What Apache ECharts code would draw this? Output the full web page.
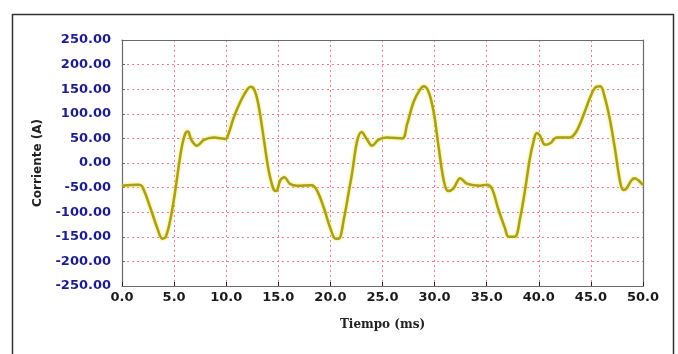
<!DOCTYPE html>
<html><head><meta charset="utf-8">
<script src="https://cdn.jsdelivr.net/npm/echarts@6/dist/echarts.min.js"></script>
<style>html,body{margin:0;padding:0;background:#fff}#c{width:678px;height:354px}</style>
</head><body><div id="c"></div>
<script>
var timeMs = [0, 1.6, 1.95, 2.75, 3.4, 3.87, 4.2, 4.66, 5.14, 5.46, 5.78, 6.1, 6.33, 6.65, 7.2, 7.86, 8.8, 9.94, 10.25, 10.7, 11.37, 12.0, 12.33, 12.7, 13.1, 13.6, 14.1, 14.57, 14.8, 15.2, 15.6, 16.1, 16.8, 18.2, 18.7, 19.4, 20.0, 20.5, 20.8, 21.3, 21.76, 22.1, 22.56, 23.0, 23.45, 24.0, 24.6, 25.4, 26.9, 27.35, 28.0, 28.6, 28.95, 29.4, 29.9, 30.4, 30.9, 31.3, 31.8, 32.46, 33.1, 34.4, 35.0, 35.5, 36.1, 36.76, 37.1, 37.7, 38.2, 38.7, 39.15, 39.5, 39.8, 40.1, 40.6, 41.1, 41.7, 43.0, 43.6, 44.3, 44.9, 45.4, 45.9, 46.3, 46.8, 47.3, 47.8, 48.1, 48.4, 48.9, 49.2, 49.7, 50.0];
var corriente = [-46, -44, -48, -93, -133, -154, -150, -113, -52, -4, 37, 61, 64, 47, 35, 47, 52, 49, 61, 91, 125, 149, 155, 149, 118, 50, -18, -55, -57, -35, -29, -42, -46, -45, -55, -93, -133, -154, -154, -113, -59, -18, 44, 63, 50, 35, 47, 52, 50, 78, 125, 149, 156, 146, 105, 30, -38, -57, -52, -31, -42, -46, -44, -52, -93, -133, -150, -150, -113, -52, 10, 44, 61, 56, 37, 40, 52, 52, 64, 98, 132, 153, 156, 136, 91, 30, -38, -55, -52, -35, -31, -38, -45];
var xMin = 0, xMax = 50, xStep = 5;
var yMin = -250, yMax = 250, yStep = 50;
var xTitle = 'Tiempo (ms)';
var yTitle = 'Corriente (A)';

var pts = timeMs.map(function(t, i){ return [t, corriente[i]]; });
var sans = '"DejaVu Sans", sans-serif';
var serif = '"DejaVu Serif", "Liberation Serif", serif';
var frameLine = {show: true, onZero: false, lineStyle: {color: '#6a6a6a', width: 1.2}};
var chart = echarts.init(document.getElementById('c'), null, {renderer: 'canvas'});
chart.setOption({
  animation: false,
  backgroundColor: '#fff',
  graphic: [{
    type: 'rect', left: 10, top: 12, silent: true,
    shape: {width: 661, height: 400},
    style: {fill: 'none', stroke: '#333', lineWidth: 1.5}
  }],
  grid: {left: 122, right: 35, top: 40, bottom: 68, show: false},
  xAxis: [{
    type: 'value', min: xMin, max: xMax, interval: xStep,
    name: xTitle, nameLocation: 'middle', nameGap: 33,
    nameTextStyle: {fontFamily: serif, fontWeight: 'bold', fontSize: 12, color: '#222'},
    axisLine: frameLine,
    axisTick: {show: true, inside: true, length: 4, lineStyle: {color: '#222'}},
    axisLabel: {fontFamily: sans, fontWeight: 'bold', fontSize: 13, color: '#1a1a1a', margin: 5,
      formatter: function(v){ return v.toFixed(1); }},
    splitLine: {show: true, lineStyle: {color: '#ee7f86', type: [2, 3], width: 1}}
  }, {
    type: 'value', position: 'top', min: xMin, max: xMax, interval: xStep,
    axisLine: frameLine, axisTick: {show: false}, axisLabel: {show: false}, splitLine: {show: false}
  }],
  yAxis: [{
    type: 'value', min: yMin, max: yMax, interval: yStep,
    name: yTitle, nameLocation: 'middle', nameGap: 78, nameRotate: 90,
    nameTextStyle: {fontFamily: sans, fontWeight: 'bold', fontSize: 12, color: '#222'},
    axisLine: frameLine,
    axisTick: {show: true, inside: true, length: 3, lineStyle: {color: '#666'}},
    axisLabel: {fontFamily: sans, fontWeight: 'bold', fontSize: 13, color: '#1c1c8c', margin: 11,
      formatter: function(v){ return v.toFixed(2); }},
    splitLine: {show: true, lineStyle: {color: '#ee7f86', type: [2, 3], width: 1}}
  }, {
    type: 'value', position: 'right', min: yMin, max: yMax, interval: yStep,
    axisLine: frameLine, axisTick: {show: false}, axisLabel: {show: false}, splitLine: {show: false}
  }],
  series: [{
    type: 'line', data: pts, smooth: 0.35, showSymbol: false,
    lineStyle: {color: '#a8a01a', width: 2.5, shadowColor: 'rgba(235,225,40,0.95)', shadowBlur: 3}
  }]
});
</script></body></html>
